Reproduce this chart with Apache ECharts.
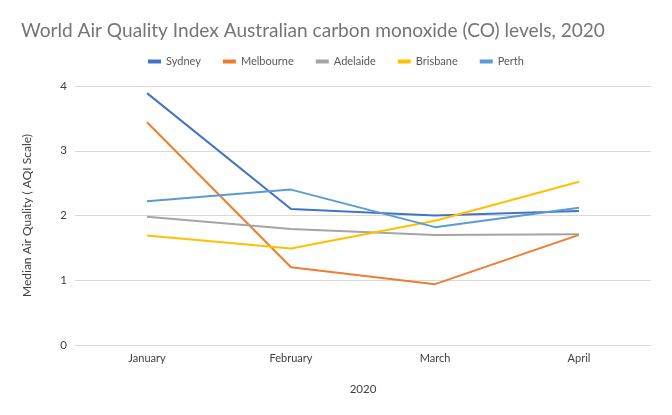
<!DOCTYPE html>
<html lang="en">
<head>
    <meta charset="UTF-8">
    <title>CO levels 2020</title>
    <script src="https://cdn.jsdelivr.net/npm/echarts@6/dist/echarts.min.js"></script>
    <style>
        html, body { margin: 0; padding: 0; background: #fff; }
        #chart { width: 672px; height: 415px; }
    </style>
</head>
<body>
<div id="chart"></div>
<script type="text/javascript">
    // data
    var months = ['January', 'February', 'March', 'April'];
    var sydney = [3.89, 2.10, 2.00, 2.07];
    var melbourne = [3.44, 1.20, 0.94, 1.70];
    var adelaide = [1.98, 1.79, 1.70, 1.71];
    var brisbane = [1.69, 1.49, 1.92, 2.52];
    var perth = [2.22, 2.40, 1.82, 2.12];

    var font = 'Lato, "Liberation Sans", "DejaVu Sans", sans-serif';

    function line(name, data, color) {
        return {
            name: name,
            type: 'line',
            data: data,
            showSymbol: false,
            symbol: 'none',
            lineStyle: { width: 2, color: color },
            itemStyle: { color: color }
        };
    }

    var myChart = echarts.init(document.getElementById('chart'));
    myChart.setOption({
        animation: false,
        textStyle: { fontFamily: font },
        title: {
            text: 'World Air Quality Index Australian carbon monoxide (CO) levels, 2020',
            left: 16,
            top: 16,
            textStyle: { fontSize: 19.1, fontWeight: 'normal', color: '#757575', fontFamily: font }
        },
        legend: {
            top: 51,
            left: 'center',
            itemWidth: 13,
            itemHeight: 4,
            itemGap: 22,
            icon: 'rect',
            textStyle: { fontSize: 11, color: '#595959' },
            data: ['Sydney', 'Melbourne', 'Adelaide', 'Brisbane', 'Perth']
        },
        grid: { left: 75, right: 21, top: 86, bottom: 70 },
        xAxis: {
            type: 'category',
            data: months,
            boundaryGap: true,
            name: '2020',
            nameLocation: 'middle',
            nameGap: 38,
            nameTextStyle: { fontSize: 11.5, color: '#404040' },
            axisLine: { lineStyle: { color: '#d9d9d9' } },
            axisTick: { show: false },
            axisLabel: { fontSize: 11, color: '#404040', margin: 8 }
        },
        yAxis: {
            type: 'value',
            min: 0,
            max: 4,
            interval: 1,
            name: 'Median Air Quality ( AQI Scale)',
            nameLocation: 'middle',
            nameGap: 42,
            nameTextStyle: { fontSize: 12, color: '#404040' },
            axisLabel: { fontSize: 11.5, color: '#404040', margin: 8 },
            splitLine: { lineStyle: { color: '#d9d9d9' } },
            axisLine: { show: false },
            axisTick: { show: false }
        },
        series: [
            line('Sydney', sydney, '#4472C4'),
            line('Melbourne', melbourne, '#ED7D31'),
            line('Adelaide', adelaide, '#A5A5A5'),
            line('Brisbane', brisbane, '#FFC000'),
            line('Perth', perth, '#5B9BD5')
        ]
    });
</script>
</body>
</html>
